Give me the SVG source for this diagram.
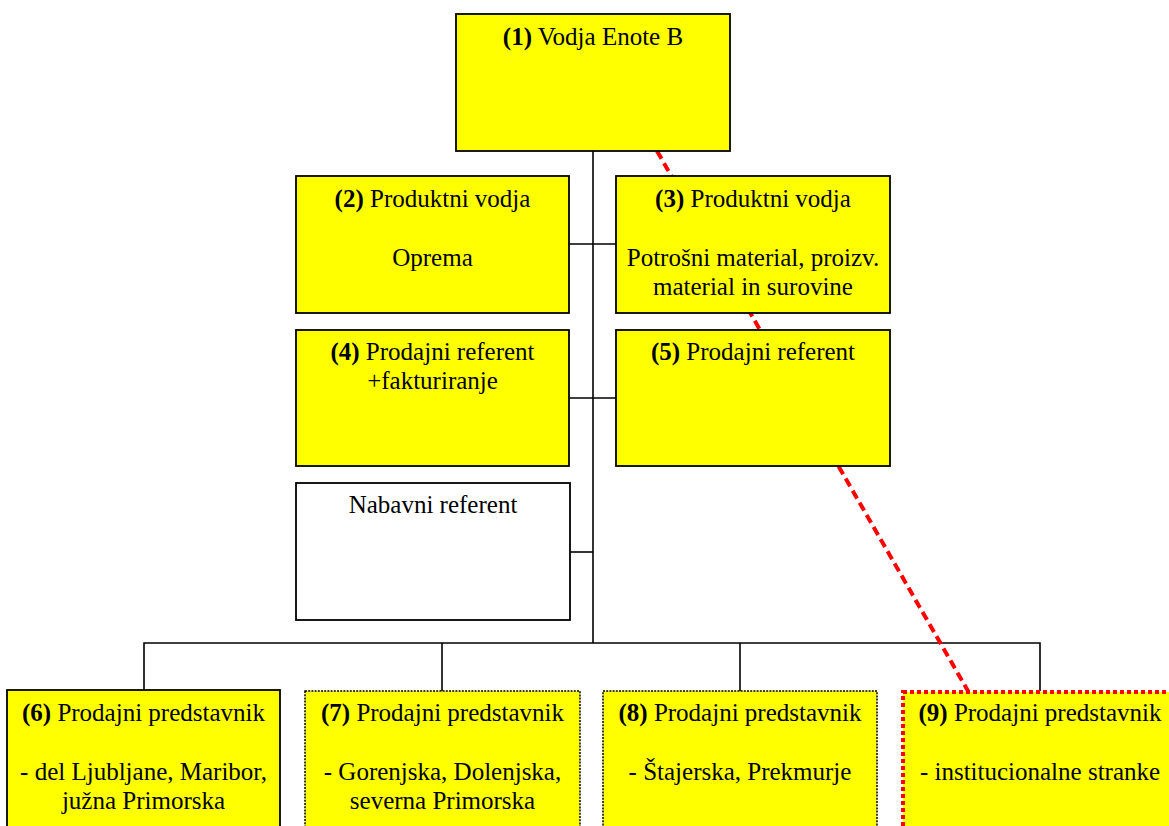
<svg xmlns="http://www.w3.org/2000/svg" width="1169" height="826" viewBox="0 0 1169 826">
  <style>
    .box { fill: #ffff00; stroke: #000; stroke-width: 1.8; }
    .plain { fill: #fff; stroke: #000; stroke-width: 1.8; }
    .dotted { fill: #ffff00; stroke: #000; stroke-width: 1.5; stroke-dasharray: 2 1.2; }
    .reddash { fill: #ffff00; stroke: #ff0000; stroke-width: 4; stroke-dasharray: 4 3; }
    .link { fill: none; stroke: #000; stroke-width: 1.6; }
    .redlink { fill: none; stroke: #ff0000; stroke-width: 4; stroke-dasharray: 9 5; }
    text { font-family: "Liberation Serif", "Times New Roman", serif; font-size: 25px; fill: #000; text-anchor: middle; }
    .b { font-weight: bold; }
  </style>

  <!-- connectors -->
  <g id="connectors">
    <path class="link" d="M593,151 V643"/>
    <path class="link" d="M569,244 H616"/>
    <path class="link" d="M569,398 H616"/>
    <path class="link" d="M570,552 H593"/>
    <path class="link" d="M144,690 V643 H1040 V691"/>
    <path class="link" d="M442,643 V691"/>
    <path class="link" d="M740,643 V691"/>
    <path class="redlink" d="M657,151 L968,691"/>
  </g>

  <g id="n1">
    <rect class="box" x="456" y="14" width="274" height="137"/>
    <text x="593" y="45"><tspan class="b">(1)</tspan> Vodja Enote B</text>
  </g>

  <g id="n2">
    <rect class="box" x="296" y="176" width="273" height="137"/>
    <text x="432.5" y="207"><tspan class="b">(2)</tspan> Produktni vodja</text>
    <text x="432.5" y="266">Oprema</text>
  </g>

  <g id="n3">
    <rect class="box" x="616" y="176" width="274" height="137"/>
    <text x="753" y="207"><tspan class="b">(3)</tspan> Produktni vodja</text>
    <text x="753" y="266">Potrošni material, proizv.</text>
    <text x="753" y="295">material in surovine</text>
  </g>

  <g id="n4">
    <rect class="box" x="296" y="330" width="273" height="136"/>
    <text x="432.5" y="360"><tspan class="b">(4)</tspan> Prodajni referent</text>
    <text x="432.5" y="388.5">+fakturiranje</text>
  </g>

  <g id="n5">
    <rect class="box" x="616" y="330" width="274" height="136"/>
    <text x="753" y="360"><tspan class="b">(5)</tspan> Prodajni referent</text>
  </g>

  <g id="n-nabava">
    <rect class="plain" x="296" y="483" width="274" height="137"/>
    <text x="433" y="513">Nabavni referent</text>
  </g>

  <g id="n6">
    <rect class="box" x="7" y="690" width="273" height="150"/>
    <text x="143.5" y="721"><tspan class="b">(6)</tspan> Prodajni predstavnik</text>
    <text x="143.5" y="780">- del Ljubljane, Maribor,</text>
    <text x="143.5" y="808.5">južna Primorska</text>
  </g>

  <g id="n7">
    <rect class="dotted" x="305" y="691" width="275" height="150"/>
    <text x="442.5" y="721"><tspan class="b">(7)</tspan> Prodajni predstavnik</text>
    <text x="442.5" y="780">- Gorenjska, Dolenjska,</text>
    <text x="442.5" y="808.5">severna Primorska</text>
  </g>

  <g id="n8">
    <rect class="dotted" x="603" y="691" width="274" height="150"/>
    <text x="740" y="721"><tspan class="b">(8)</tspan> Prodajni predstavnik</text>
    <text x="740" y="780">- Štajerska, Prekmurje</text>
  </g>

  <g id="n9">
    <rect class="reddash" x="903" y="692" width="274" height="150"/>
    <text x="1040" y="721"><tspan class="b">(9)</tspan> Prodajni predstavnik</text>
    <text x="1040" y="780">- institucionalne stranke</text>
  </g>
</svg>
